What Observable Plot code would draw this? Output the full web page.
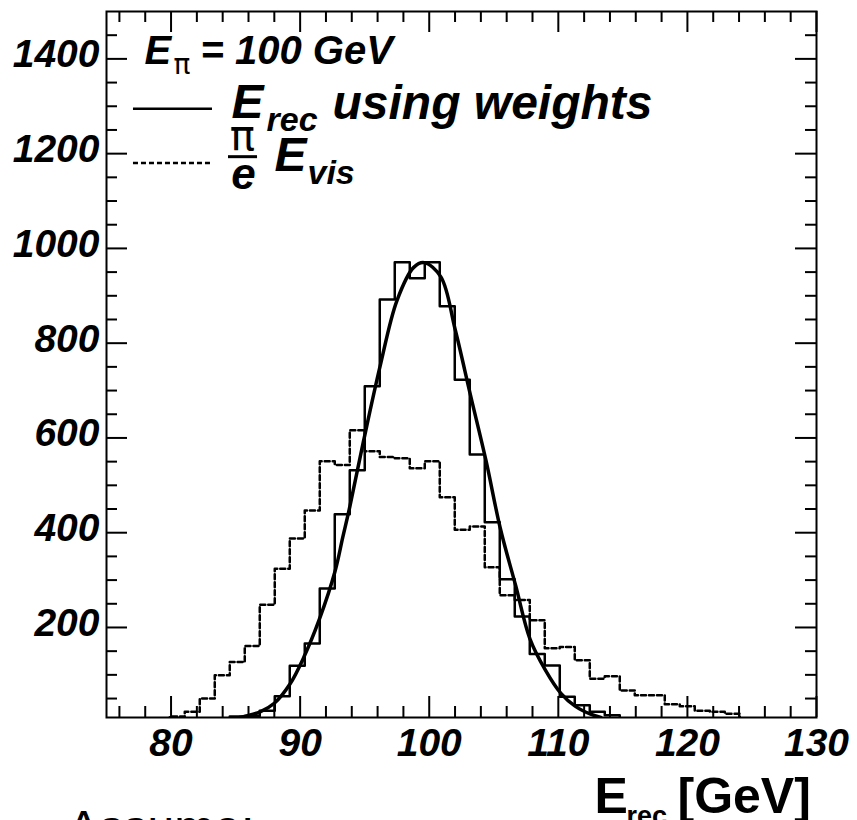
<!DOCTYPE html>
<html><head><meta charset="utf-8">
<script src="https://cdn.jsdelivr.net/npm/d3@7"></script>
<script src="https://cdn.jsdelivr.net/npm/@observablehq/plot@0.6"></script>
<style>html,body{margin:0;padding:0;background:#fff;overflow:hidden}</style>
</head><body><div id="chart"></div>
<script>
// Histogram binning (bin left edge of first bin, bin width in GeV)
const binStart = 79.9;
const binWidth = 1.162;
// E_rec using weights (solid histogram), counts per bin
const weightedCounts = [0,0,0,0,12,13,24,55,119,166,282,439,532,709,892,971,937,971,878,723,565,422,302,223,144,120,54,36,22,15,0,0,0,0,0,0,0,0];
// (pi/e) E_vis (dashed histogram), counts per bin
const visCounts = [12,22,50,99,127,161,248,324,388,447,551,543,616,572,560,557,536,551,475,406,413,327,268,258,215,156,159,131,92,97,67,57,57,38,34,24,22,18];
// Gaussian fit curve
const fitX = [85.3,86.9,88.0,89.2,90.3,91.5,92.7,93.3,93.85,94.9,96.2,97.5,98.8,99.6,100.9,102.0,103.2,104.4,105.5,106.7,107.8,109.0,110.2,111.3,112.5,113.3];
const fitY = [10,22,40,80,138,218,318,390,455,592,752,890,960,970,940,830,690,552,410,288,176,110,61,34,17,10];
// Axis ticks
const xTicks = [80,90,100,110,120,130];
const yTicks = [200,400,600,800,1000,1200,1400];
const xMinor = d3.range(76,130,2).filter(v => v % 10 !== 0);
const yMinor = d3.range(50,1500,50).filter(v => v % 200 !== 0);

function steps(counts) {
  const first = counts.findIndex(v => v > 0);
  let last = counts.length - 1;
  while (last > 0 && !(counts[last] > 0)) last--;
  const pts = [{x: binStart + first * binWidth, y: 0}];
  for (let i = first; i <= last; i++) pts.push({x: binStart + i * binWidth, y: counts[i]});
  pts.push({x: binStart + (last + 1) * binWidth, y: counts[last]});
  pts.push({x: binStart + (last + 1) * binWidth, y: 0});
  return pts;
}
const fitPts = fitX.map((x, i) => ({x, y: fitY[i]}));

const W = 857, H = 820;
const mT = 11, mR = 41, mB = 103, mL = 106;
const FW = W - mL - mR, FH = H - mT - mB;
const MAJ = 21, MIN = 11;

function txt(s, dx, dy, size, o = {}) {
  return Plot.text([s], {text: d => d, frameAnchor: "top-left", dx, dy, fontSize: size,
    textAnchor: "start", lineAnchor: "bottom", fontWeight: "bold", fontStyle: "italic", fill: "black", ...o});
}

const chart = Plot.plot({
  width: W, height: H,
  marginTop: mT, marginRight: mR, marginBottom: mB, marginLeft: mL,
  style: {fontFamily: "'Liberation Sans', Arial, Helvetica, sans-serif", background: "white", color: "black"},
  x: {domain: [75, 130]},
  y: {domain: [10, 1500]},
  marks: [
    // histograms and fit
    Plot.line(steps(visCounts), {x: "x", y: "y", curve: "step-after", stroke: "black", strokeWidth: 2.5, strokeDasharray: "5,3", clip: true}),
    Plot.line(steps(weightedCounts), {x: "x", y: "y", curve: "step-after", stroke: "black", strokeWidth: 2.5, clip: true}),
    Plot.line(fitPts, {x: "x", y: "y", curve: "catmull-rom", stroke: "black", strokeWidth: 3.5, clip: true}),
    // frame and inward ticks (ROOT style)
    Plot.frame({stroke: "black", strokeWidth: 2}),
    Plot.tickX(xTicks, {x: d => d, insetTop: FH - MAJ, stroke: "black", strokeWidth: 2}),
    Plot.tickX(xMinor, {x: d => d, insetTop: FH - MIN, stroke: "black", strokeWidth: 2}),
    Plot.tickX(xTicks, {x: d => d, insetBottom: FH - MAJ, stroke: "black", strokeWidth: 2}),
    Plot.tickX(xMinor, {x: d => d, insetBottom: FH - MIN, stroke: "black", strokeWidth: 2}),
    Plot.tickY(yTicks, {y: d => d, insetRight: FW - MAJ, stroke: "black", strokeWidth: 2}),
    Plot.tickY(yMinor, {y: d => d, insetRight: FW - MIN, stroke: "black", strokeWidth: 2}),
    Plot.tickY(yTicks, {y: d => d, insetLeft: FW - MAJ, stroke: "black", strokeWidth: 2}),
    Plot.tickY(yMinor, {y: d => d, insetLeft: FW - MIN, stroke: "black", strokeWidth: 2}),
    // tick labels
    Plot.axisX({ticks: xTicks, tickFormat: d => String(d), tickSize: 0, tickPadding: 11, label: null, fontSize: 39, fontWeight: "bold", fontStyle: "italic", fill: "black"}),
    Plot.axisY({ticks: yTicks, tickFormat: d => String(d), tickSize: 0, tickPadding: 7, label: null, fontSize: 39, fontWeight: "bold", fontStyle: "italic", fill: "black", dy: -4}),
    // legend
    txt("E", 38, 52, 40),
    txt("π", 67, 62, 28, {fontWeight: "normal", fontStyle: "normal", fontFamily: "'DejaVu Sans', sans-serif"}),
    txt("= 100 GeV", 94, 52, 40, {ariaLabel: "leg-energy"}),
    Plot.ruleY([1295], {x1: 77.09, x2: 83.21, stroke: "black", strokeWidth: 2.5}),
    txt("E", 125, 106, 48),
    txt("rec", 160, 119, 34),
    txt("using weights", 226, 107, 48, {ariaLabel: "leg-weights"}),
    Plot.ruleY([1180.5], {x1: 77.09, x2: 83.21, stroke: "black", strokeWidth: 2.5, strokeDasharray: "5,3"}),
    txt("π", 136, 138, 42, {textAnchor: "middle", fontWeight: "normal", fontStyle: "normal", fontFamily: "'DejaVu Sans', sans-serif"}),
    Plot.ruleY([1193.6], {x1: 84.45, x2: 86.7, stroke: "black", strokeWidth: 3}),
    txt("e", 137, 177, 44, {textAnchor: "middle"}),
    txt("E", 168, 159, 48),
    txt("vis", 201, 172, 34),
    // x-axis title
    txt("E", 488, 801, 50, {fontStyle: "normal"}),
    txt("rec", 520, 813, 27, {fontStyle: "normal"}),
    txt("[GeV]", 571, 801, 50, {fontStyle: "normal", ariaLabel: "x-title-unit"}),
    // caption text cut at the bottom
    txt("Assume:", -39, 832, 48, {fontStyle: "normal", fontWeight: "normal", ariaLabel: "assume"})
  ]
});
document.getElementById("chart").appendChild(chart);

function stretch(label, len) {
  chart.querySelectorAll(`g[aria-label="${label}"] text`).forEach(t => {
    t.setAttribute("textLength", len);
    t.setAttribute("lengthAdjust", "spacingAndGlyphs");
  });
}
stretch("leg-energy", 196);
stretch("leg-weights", 330);
stretch("x-title-unit", 150);
stretch("assume", 186);
</script>
</body></html>
